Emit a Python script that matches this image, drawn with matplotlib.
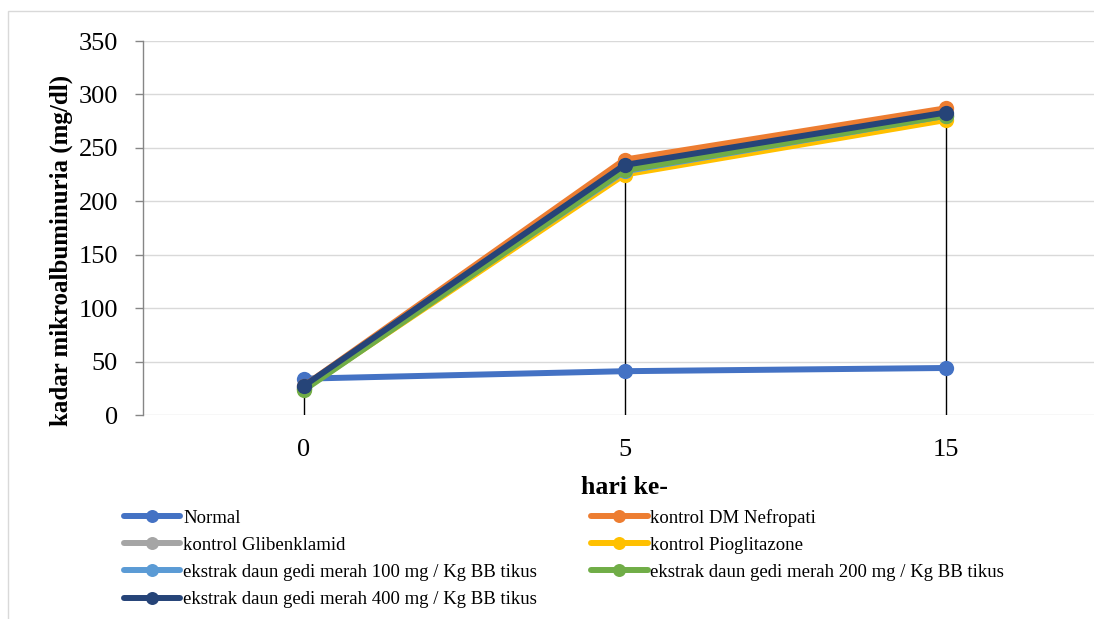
import matplotlib
matplotlib.use("Agg")
import matplotlib.pyplot as plt
from matplotlib.patches import Rectangle

days = ["0", "5", "15"]
series_names = [
    "Normal",
    "kontrol DM Nefropati",
    "kontrol Glibenklamid",
    "kontrol Pioglitazone",
    "ekstrak daun gedi merah 100 mg / Kg BB tikus",
    "ekstrak daun gedi merah 200 mg / Kg BB tikus",
    "ekstrak daun gedi merah 400 mg / Kg BB tikus",
]
normal = [34, 41, 44]
dm_nefropati = [27, 239, 287]
glibenklamid = [25, 230, 281]
pioglitazone = [24, 225, 276]
ekstrak_100 = [25, 228, 280]
ekstrak_200 = [23, 229, 280]
ekstrak_400 = [27, 234, 283]
values = [normal, dm_nefropati, glibenklamid, pioglitazone, ekstrak_100, ekstrak_200, ekstrak_400]
colors = ["#4472C4", "#ED7D31", "#A5A5A5", "#FFC000", "#5B9BD5", "#70AD47", "#264478"]
yticks = [0, 50, 100, 150, 200, 250, 300, 350]

plt.rcParams['font.family'] = ['Liberation Serif', 'DejaVu Serif']

W, H = 1094, 619
fig = plt.figure(figsize=(W / 100, H / 100), dpi=100)
# chart border (partially visible)
fig.patches.append(Rectangle((8 / W, -0.1), 1.2, (H - 11) / H + 0.1, transform=fig.transFigure,
                             fill=False, edgecolor="#D9D9D9", linewidth=1.0))

ax = fig.add_axes([143 / W, (H - 415) / H, 963 / W, 374 / H])
x = list(range(len(days)))

for i in x:
    top = max(v[i] for v in values)
    ax.plot([i, i], [0, top], color="black", linewidth=1.0, zorder=1)

handles = []
for name, vals, c in zip(series_names, values, colors):
    h, = ax.plot(x, vals, color=c, linewidth=4.3, marker="o", markersize=11,
                 markeredgewidth=0, solid_capstyle="round", label=name, zorder=3)
    handles.append(h)

ax.set_xlim(-0.5, 2.5)
ax.set_ylim(0, 350)
ax.set_yticks(yticks)
ax.set_xticks(x)
ax.set_xticklabels(days)
ax.grid(axis="y", color="#D9D9D9", linewidth=1.0, zorder=0)
ax.set_axisbelow(True)
for s in ["top", "right", "bottom"]:
    ax.spines[s].set_visible(False)
ax.spines["left"].set_color("#868686")
ax.spines["left"].set_linewidth(1.0)
ax.tick_params(axis="y", length=6, width=1.0, color="#868686", pad=12, labelsize=19)
ax.tick_params(axis="x", length=0, pad=17, labelsize=19)
ax.set_ylabel("kadar mikroalbuminuria (mg/dl)", fontsize=18, fontweight="bold")
ax.yaxis.set_label_coords((73 - 143) / 963, (415 - 250) / 374)
ax.set_xlabel("hari ke-", fontsize=18.5, fontweight="bold")
ax.xaxis.set_label_coords(0.5, (415 - 476) / 374)

order = [0, 2, 4, 6, 1, 3, 5]
leg = fig.legend([handles[k] for k in order], [series_names[k] for k in order],
                 ncol=2, loc="upper left", bbox_to_anchor=(124 / W, 1 - 509 / H),
                 frameon=False, fontsize=13.5, handlelength=3.0, handletextpad=0.15,
                 labelspacing=0.53, columnspacing=2.9, borderaxespad=0, borderpad=0,
                 markerscale=0.85)

fig.savefig("out.png", dpi=100)
